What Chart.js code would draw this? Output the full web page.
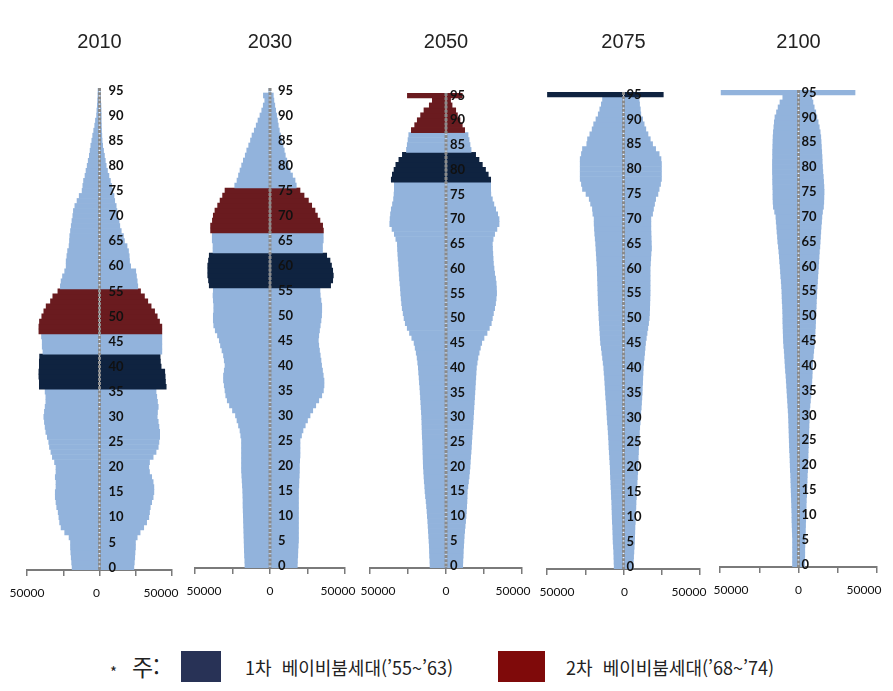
<!DOCTYPE html>
<html lang="ko">
<head>
<meta charset="utf-8">
<script src="https://cdn.jsdelivr.net/npm/chart.js@4.4.1/dist/chart.umd.min.js"></script>
<style>
  html,body{margin:0;padding:0;background:#fff;}
  body{width:893px;height:691px;position:relative;overflow:hidden;}
  canvas{position:absolute;top:0;}
  .lg{position:absolute;font-family:"Noto Sans CJK KR",sans-serif;color:#222;white-space:pre;line-height:1;}
  .box{position:absolute;}
</style>
</head>
<body>
<canvas id="c0"></canvas>
<canvas id="c1"></canvas>
<canvas id="c2"></canvas>
<canvas id="c3"></canvas>
<canvas id="c4"></canvas>

<div class="lg" style="left:110px;top:664px;font-size:15px;">*</div>
<div class="lg" style="left:132px;top:655px;font-size:23px;">주:</div>
<div class="box" style="left:181px;top:651px;width:40px;height:31px;background:#283256"></div>
<div class="lg" style="left:245px;top:658px;font-size:18px;">1차  베이비붐세대(’55~’63)</div>
<div class="box" style="left:498px;top:651px;width:47px;height:31px;background:#7f0a0a"></div>
<div class="lg" style="left:566px;top:658px;font-size:18px;">2차  베이비붐세대(’68~’74)</div>

<script>
// ---------- data (population, thousands; index = age 0..95, 95 = 95+) ----------
const years = ['2010', '2030', '2050', '2075', '2100'];
const ages = Array.from({length: 96}, (_, i) => i);
const ageTicks = [0, 5, 10, 15, 20, 25, 30, 35, 40, 45, 50, 55, 60, 65, 70, 75, 80, 85, 90, 95];
const xTickValues = [-50, 0, 50];
const xTickText = ['50000', '0', '50000'];

const male2010 = [
18.9,19.2,19.5,19.8,20.0,20.0,21.0,24.0,26.5,27.5,
28.0,28.5,29.5,30.0,30.5,30.5,30.0,30.0,30.5,30.0,
30.0,31.0,32.5,33.5,34.5,35.0,36.0,37.0,37.5,38.0,
38.4,38.0,37.5,37.0,37.0,37.5,41.5,41.5,41.8,41.8,
41.5,41.5,41.3,39.0,39.5,39.5,40.0,41.8,41.8,41.4,
39.8,38.4,36.8,33.8,32.2,28.7,27.0,26.5,25.5,24.0,
23.0,23.0,22.5,22.0,21.0,20.7,20.5,20.0,19.5,19.0,
18.4,18.0,17.0,15.5,14.0,12.0,11.5,11.0,10.0,9.3,
8.5,7.8,7.0,6.5,6.0,5.3,4.7,4.0,3.3,2.8,
2.0,1.8,1.5,1.3,1.1,1.0];
const female2010 = [
23.7,24.0,24.3,24.5,24.8,24.8,26.0,28.0,30.5,32.5,
34.0,34.5,35.0,36.0,37.0,37.5,37.5,37.0,36.0,34.5,
34.0,34.5,37.0,39.0,40.5,41.0,41.5,41.5,41.0,40.5,
39.8,40.0,40.5,40.0,39.5,39.0,46.0,45.5,45.3,45.0,
42.5,42.0,41.8,43.0,43.0,43.0,43.0,43.0,43.0,41.4,
39.8,38.0,35.6,33.3,31.0,28.3,26.4,26.0,25.5,25.0,
21.5,20.7,20.5,20.0,19.0,17.2,16.5,15.0,14.0,13.5,
12.6,12.0,11.5,10.5,10.0,9.2,8.3,7.5,6.5,5.5,
4.6,4.0,3.4,2.8,2.2,1.8,1.6,1.4,1.3,1.2,
1.2,1.1,1.0,0.8,0.6,0.5];

const male2030 = [
16.7,16.8,17.0,17.1,17.2,17.3,17.4,17.5,17.6,17.7,
17.8,17.9,18.0,18.0,18.1,18.2,18.4,18.6,18.8,19.0,
19.0,19.0,19.0,19.0,19.0,19.0,19.5,20.0,21.0,22.0,
23.0,25.0,27.0,28.5,29.5,30.0,30.5,31.0,31.0,30.5,
30.0,30.5,31.0,32.0,33.0,33.8,35.0,36.5,37.5,37.8,
37.8,37.5,37.5,37.8,38.0,37.8,40.5,41.0,41.5,41.5,
41.5,41.0,40.5,38.0,38.0,38.5,38.5,39.6,39.6,38.4,
37.8,36.7,34.9,33.3,31.6,30.0,23.5,22.0,21.0,20.0,
18.9,17.8,16.5,15.5,14.2,13.0,12.0,10.5,9.2,8.0,
6.7,5.5,4.5,3.5,4.4,0.8];
const female2030 = [
18.2,18.3,18.5,18.6,18.8,19.0,19.0,19.0,19.0,19.0,
19.0,19.0,19.0,19.0,19.0,19.0,19.2,19.3,19.5,19.6,
19.6,19.8,20.0,20.0,20.0,20.0,21.0,22.0,23.5,25.0,
26.7,28.5,30.5,32.5,34.5,35.6,36.0,36.0,35.5,35.0,
34.4,34.0,33.5,33.0,32.5,32.2,32.5,33.0,33.5,34.0,
34.4,34.5,34.5,34.0,33.5,33.3,40.4,41.8,42.2,41.8,
41.0,40.0,37.8,35.0,35.0,35.5,35.5,35.6,35.1,33.3,
31.6,30.0,27.8,25.6,22.7,20.0,17.5,16.7,15.0,13.5,
12.2,11.2,10.2,9.5,8.7,7.8,7.0,6.2,5.5,5.0,
4.4,3.8,3.2,2.6,2.2,0.5];

const male2050 = [
10.5,10.6,10.8,10.9,11.0,11.2,11.4,11.6,11.8,12.0,
12.3,12.5,12.8,13.1,13.5,13.8,14.0,14.3,14.5,14.7,
14.9,15.0,15.1,15.2,15.3,15.4,15.6,15.7,15.8,15.9,
16.0,16.2,16.4,16.6,16.8,17.0,17.2,17.5,17.7,18.0,
18.2,18.6,19.0,19.6,20.3,21.0,22.5,24.0,25.5,26.8,
27.6,28.2,28.8,29.2,29.5,29.8,30.0,30.3,30.6,30.8,
31.0,31.2,31.5,31.7,31.9,32.0,33.0,34.0,35.5,37.0,
36.8,36.5,36.0,35.2,34.5,34.2,34.0,34.0,36.0,35.3,
34.2,33.0,31.0,28.7,26.0,25.5,25.0,24.5,22.8,20.6,
18.9,16.7,14.5,11.0,9.0,25.4];
const female2050 = [
11.0,11.1,11.3,11.4,11.6,11.8,12.0,12.3,12.6,12.9,
13.2,13.4,13.6,13.8,13.9,14.0,14.4,14.8,15.2,15.5,
15.8,16.0,16.2,16.5,16.7,16.9,17.1,17.3,17.6,17.8,
18.0,18.2,18.4,18.6,18.8,19.0,19.2,19.4,19.6,19.8,
20.0,20.5,21.0,21.8,22.6,23.5,25.0,27.0,28.5,29.8,
30.5,31.2,32.0,32.6,33.0,33.3,33.2,33.0,32.6,32.0,
31.6,31.2,31.0,30.8,30.6,30.5,31.0,32.0,33.5,34.9,
34.9,34.0,32.7,31.5,30.5,29.5,29.4,29.4,29.4,27.8,
26.0,23.9,21.7,19.5,16.5,15.8,15.2,14.5,12.3,10.7,
9.2,7.5,6.4,4.0,3.0,10.7];

const male2075 = [
6.1,6.2,6.3,6.4,6.6,6.8,6.9,7.0,7.1,7.3,
7.4,7.5,7.6,7.7,7.9,8.0,8.2,8.3,8.5,8.6,
8.7,8.9,9.1,9.3,9.5,9.6,9.8,10.0,10.2,10.5,
10.7,10.9,11.1,11.3,11.6,11.8,12.0,12.2,12.4,12.7,
12.9,13.3,13.7,14.1,14.5,15.0,15.2,15.4,15.6,15.8,
16.0,16.1,16.3,16.5,16.6,16.7,16.8,16.9,17.0,17.1,
17.2,17.4,17.6,17.8,18.0,18.2,18.5,18.8,19.0,19.2,
19.2,20.0,20.3,21.5,22.4,24.5,26.8,27.5,28.3,28.3,
28.3,28.3,28.3,27.5,26.8,24.0,23.5,22.0,20.5,19.5,
18.0,16.5,15.5,14.5,13.7,49.7];
const female2075 = [
6.3,6.4,6.6,6.8,7.0,7.2,7.3,7.4,7.5,7.7,
7.8,7.9,8.1,8.2,8.4,8.5,8.7,8.9,9.1,9.3,
9.4,9.5,9.6,9.8,9.9,10.0,10.2,10.4,10.6,10.9,
11.1,11.3,11.6,11.8,12.0,12.2,12.3,12.5,12.6,12.8,
12.9,13.2,13.5,13.8,14.1,14.4,14.9,15.4,15.9,16.4,
16.8,17.0,17.1,17.2,17.3,17.4,17.4,17.4,17.4,17.4,
17.4,17.6,17.8,18.0,18.3,18.2,18.1,18.0,17.9,17.9,
17.9,19.0,19.6,20.3,21.0,22.5,23.3,24.2,24.8,24.8,
24.8,24.8,24.5,23.3,21.0,19.0,17.5,16.0,14.6,13.5,
12.5,11.3,11.0,10.5,10.2,26.0];

const male2100 = [
3.8,3.8,3.8,3.8,3.8,3.8,3.9,4.0,4.1,4.2,
4.2,4.3,4.4,4.5,4.6,4.7,4.8,4.9,5.0,5.2,
5.3,5.4,5.5,5.7,5.8,5.9,6.0,6.1,6.2,6.3,
6.4,6.6,6.8,7.0,7.2,7.4,7.6,7.8,8.0,8.3,
8.5,8.7,8.9,9.1,9.4,9.6,9.7,9.8,9.9,10.0,
10.0,10.1,10.2,10.4,10.5,10.6,10.8,11.0,11.3,11.5,
11.7,12.0,12.2,12.5,12.8,13.2,13.4,13.7,13.9,14.2,
14.4,15.2,16.0,16.2,16.3,16.3,16.4,16.5,16.5,16.6,
16.6,16.6,16.5,16.5,16.4,16.3,16.2,16.0,15.7,15.4,
15.0,14.0,13.0,11.8,10.0,49.3];
const female2100 = [
3.8,3.9,4.0,4.0,4.1,4.2,4.3,4.4,4.5,4.6,
4.7,4.8,4.9,5.0,5.2,5.3,5.4,5.5,5.6,5.8,
5.9,6.0,6.1,6.2,6.3,6.4,6.5,6.6,6.7,6.8,
6.8,7.0,7.3,7.6,7.9,8.1,8.3,8.5,8.7,8.8,
8.9,9.1,9.4,9.7,10.0,10.2,10.4,10.6,10.8,10.9,
11.0,11.1,11.3,11.4,11.6,11.7,11.9,12.1,12.3,12.5,
12.7,12.9,13.1,13.3,13.6,13.8,14.0,14.2,14.4,14.7,
14.9,15.3,15.9,16.1,16.2,16.3,16.2,16.0,15.8,15.5,
15.3,15.1,15.0,14.8,14.6,14.4,14.2,13.8,13.2,12.5,
11.7,11.0,10.0,9.2,8.5,36.0];

// cohort bands (age ranges) as coloured in the picture
const redBand  = {'2010': [47, 55], '2030': [67, 75], '2050': [88, 95]};
const navyBand = {'2010': [36, 42], '2030': [56, 62], '2050': [78, 83], '2075': [95, 95]};

const maleSeries   = [male2010, male2030, male2050, male2075, male2100];
const femaleSeries = [female2010, female2030, female2050, female2075, female2100];

// ---------- styling / layout ----------
const BLUE = '#92b3dc', RED = '#6a1b1f', NAVY = '#0f2340';
const AGEFONT = 'bold 13px Lato, "Open Sans", sans-serif';
const XFONT = '12px Lato, "Open Sans", sans-serif';
const layoutPanels = [
  {left: 27,  right: 172, top: 88, bottom: 570, dx: 9,  shift: [0, -3, -11]},
  {left: 195, right: 345, top: 88, bottom: 568, dx: 8,  shift: [9, 0, -7]},
  {left: 370, right: 522, top: 93, bottom: 568, dx: 4,  shift: [8, 0, -9]},
  {left: 547, right: 700, top: 92, bottom: 569, dx: 3,  shift: [10, 1, -11]},
  {left: 720, right: 877, top: 90, bottom: 567, dx: 3,  shift: [11, 0, -13]}
];
const PAD = 30;

const inBand = (band, a) => band && a >= band[0] && a <= band[1];

const ageAxisPlugin = {
  id: 'ageAxis',
  afterDatasetsDraw(chart, args, opts) {
    const {ctx, chartArea, scales} = chart;
    const cx = scales.x.getPixelForValue(0);
    ctx.save();
    ctx.strokeStyle = '#8a8a8a';
    ctx.lineWidth = 3;
    ctx.setLineDash([3, 1.2]);
    ctx.beginPath();
    ctx.moveTo(cx, chartArea.top);
    ctx.lineTo(cx, chartArea.bottom);
    ctx.stroke();
    ctx.setLineDash([]);
    ctx.fillStyle = '#111';
    ctx.font = AGEFONT;
    ctx.textAlign = 'left';
    ctx.textBaseline = 'middle';
    ageTicks.forEach(a => {
      ctx.fillText(String(a), cx + opts.dx, scales.y.getPixelForValue(ages.indexOf(a)));
    });
    // value-axis tick labels
    ctx.font = XFONT;
    ctx.textAlign = 'center';
    ctx.fillStyle = '#111';
    xTickValues.forEach((v, k) => {
      ctx.fillText(xTickText[k], scales.x.getPixelForValue(v) + opts.shift[k], chartArea.bottom + 23);
    });
    ctx.restore();
  }
};

years.forEach((yr, i) => {
  const p = layoutPanels[i];
  const cv = document.getElementById('c' + i);
  cv.width = p.right - p.left + 2 * PAD;
  cv.height = p.bottom + 40;
  cv.style.left = (p.left - PAD) + 'px';
  const colors = ages.map(a => inBand(redBand[yr], a) ? RED : (inBand(navyBand[yr], a) ? NAVY : BLUE));
  new Chart(cv, {
    type: 'bar',
    data: {
      labels: ages,
      datasets: [
        {label: 'male', data: maleSeries[i].map(v => -v), backgroundColor: colors,
         borderWidth: 0, barPercentage: 1, categoryPercentage: 1},
        {label: 'female', data: femaleSeries[i], backgroundColor: colors,
         borderWidth: 0, barPercentage: 1, categoryPercentage: 1}
      ]
    },
    options: {
      indexAxis: 'y',
      responsive: false,
      animation: false,
      layout: {padding: {left: PAD, right: PAD, top: 0, bottom: 0}},
      plugins: {
        legend: {display: false},
        tooltip: {enabled: false},
        title: {
          display: true, text: yr, color: '#222',
          font: {family: '"Liberation Sans", Arial, sans-serif', size: 20, weight: 'normal'},
          padding: {top: 30, bottom: p.top - 54}
        },
        ageAxis: {dx: p.dx, shift: p.shift}
      },
      scales: {
        y: {type: 'category', stacked: true, reverse: true, display: false},
        x: {
          type: 'linear', stacked: true, min: -50, max: 50,
          afterFit: s => { s.height = 40; },
          ticks: {stepSize: 25, autoSkip: false, display: false},
          grid: {display: true, drawOnChartArea: false, drawTicks: true, tickLength: 6,
                 color: '#7a7a7a', lineWidth: 1.5},
          border: {display: true, color: '#7a7a7a', width: 2}
        }
      }
    },
    plugins: [ageAxisPlugin]
  });
});
</script>
</body>
</html>
